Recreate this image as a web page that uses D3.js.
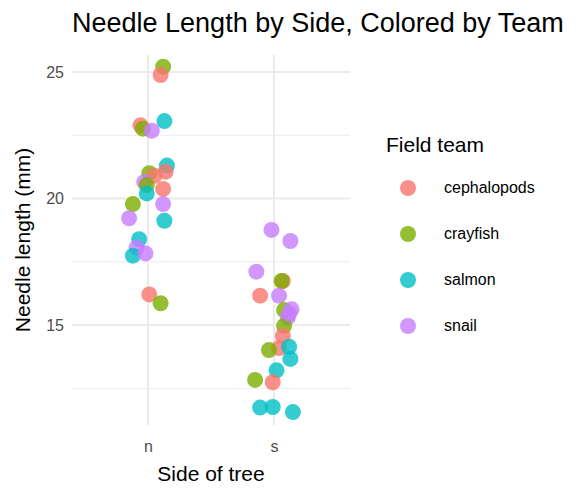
<!DOCTYPE html><html><head><meta charset="utf-8">
<script src="https://cdn.jsdelivr.net/npm/d3@7"></script>
<style>body{margin:0;background:#fff}</style></head><body>
<svg id="c" width="576" height="499"></svg>
<script>
const sides = ["n","s"];
const teams = ["cephalopods","crayfish","salmon","snail"];
const teamColors = ["#F8766D","#7CAE00","#00BFC4","#C77CFF"];
const yTicks = [15,20,25];
// each point: side, team, needle length, horizontal jitter (category units)
const pointSide = ["n","n","n","n","n","n","n","n","n","n","n","n","n","n","n","n","n","n","n","n","n","n","n","n",
 "s","s","s","s","s","s","s","s","s","s","s","s","s","s","s","s","s","s","s","s","s","s","s"];
const pointTeam = ["crayfish","cephalopods","salmon","cephalopods","crayfish","snail","salmon","cephalopods","crayfish","cephalopods","snail","crayfish","salmon","cephalopods","crayfish","snail","snail","salmon","salmon","snail","salmon","snail","cephalopods","crayfish",
 "snail","snail","snail","cephalopods","crayfish","cephalopods","snail","crayfish","snail","snail","crayfish","cephalopods","cephalopods","crayfish","salmon","salmon","salmon","crayfish","cephalopods","salmon","salmon","salmon","snail"];
const pointLength = [25.21,24.88,23.06,22.89,22.76,22.68,21.30,21.06,21.00,20.90,20.65,20.53,20.20,20.38,19.78,19.78,19.22,19.12,18.39,18.06,17.74,17.83,16.21,15.86,
 18.76,18.32,17.11,16.74,16.74,16.16,16.16,15.59,15.62,15.30,14.97,14.57,14.09,14.01,14.14,13.66,13.21,12.83,12.74,11.74,11.76,11.56,15.45];
const pointJitter = [0.12,0.10,0.13,-0.06,-0.04,0.03,0.15,0.14,0.01,0.05,-0.03,-0.01,-0.01,0.12,-0.12,0.12,-0.15,0.13,-0.07,-0.09,-0.12,-0.02,0.01,0.10,
 -0.02,0.13,-0.14,0.07,0.06,-0.11,0.04,0.08,0.14,0.11,0.08,0.07,0.04,-0.04,0.12,0.13,0.02,-0.15,-0.01,-0.11,-0.01,0.15,0.12];

const svg = d3.select("#c");
const L=72, R=350, T=55, B=425;
const xc = d3.scalePoint().domain(sides).range([148,274]);
const step = 126;
const y = d3.scaleLinear().domain([11.05,25.67]).range([B,T]);
const col = d3.scaleOrdinal().domain(teams).range(teamColors);
const g = svg.append("g");
[12.5,17.5,22.5].forEach(v=>g.append("line").attr("x1",L).attr("x2",R).attr("y1",y(v)).attr("y2",y(v)).attr("stroke","#ebebeb").attr("stroke-width",1));
yTicks.forEach(v=>g.append("line").attr("x1",L).attr("x2",R).attr("y1",y(v)).attr("y2",y(v)).attr("stroke","#ebebeb").attr("stroke-width",2));
sides.forEach(s=>g.append("line").attr("x1",xc(s)).attr("x2",xc(s)).attr("y1",T).attr("y2",B).attr("stroke","#ebebeb").attr("stroke-width",2));
const ya = svg.append("g").attr("transform",`translate(${L},0)`).call(d3.axisLeft(y).tickValues(yTicks).tickSize(0).tickPadding(8));
const xa = svg.append("g").attr("transform",`translate(0,${B})`).call(d3.axisBottom(xc).tickSize(0).tickPadding(16));
[ya,xa].forEach(a=>{a.select(".domain").remove();a.selectAll("text").attr("font-family","Liberation Sans, Arial").attr("font-size",16).attr("fill","#4d4d4d");});
const pts = pointLength.map((v,i)=>({s:pointSide[i],t:pointTeam[i],v,j:pointJitter[i]}));
svg.append("g").selectAll("circle").data(pts).join("circle")
 .attr("cx",d=>xc(d.s)+d.j*step).attr("cy",d=>y(d.v)).attr("r",8)
 .attr("fill",d=>col(d.t)).attr("fill-opacity",0.8);
const f="Liberation Sans, Arial";
svg.append("text").attr("x",72).attr("y",32).attr("font-family",f).attr("font-size",27).attr("fill","#000").text("Needle Length by Side, Colored by Team");
svg.append("text").attr("x",211).attr("y",481).attr("text-anchor","middle").attr("font-family",f).attr("font-size",21).text("Side of tree");
svg.append("text").attr("transform","translate(30,240) rotate(-90)").attr("text-anchor","middle").attr("font-family",f).attr("font-size",21).text("Needle length (mm)");
svg.append("text").attr("x",386).attr("y",152).attr("font-family",f).attr("font-size",21).text("Field team");
teams.forEach((t,i)=>{
 const cy=188+i*46;
 svg.append("circle").attr("cx",408).attr("cy",cy).attr("r",8).attr("fill",col(t)).attr("fill-opacity",0.8);
 svg.append("text").attr("x",444).attr("y",cy+5).attr("font-family",f).attr("font-size",16).attr("fill","#000").text(t);
});
</script></body></html>
